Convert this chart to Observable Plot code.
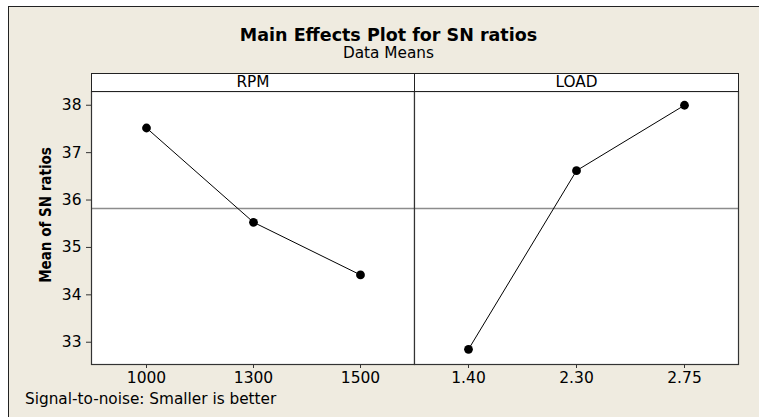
<!DOCTYPE html>
<html>
<head>
<meta charset="utf-8">
<script src="https://cdn.jsdelivr.net/npm/d3@7"></script>
<script src="https://cdn.jsdelivr.net/npm/@observablehq/plot@0.6"></script>
<style>
  html, body { margin: 0; padding: 0; background: #fff; }
  body { width: 759px; height: 417px; overflow: hidden; position: relative; font-family: "DejaVu Sans", Verdana, sans-serif; color: #000; }
  #frame { position: absolute; left: 8px; top: 6px; width: 800px; height: 500px; background: #efebe0; border-left: 1px solid #222; border-top: 1px solid #222; }
  .abs { position: absolute; }
  #title { left: 0; width: 777px; top: 27px; text-align: center; font-weight: bold; font-size: 17.5px; line-height: 17px; }
  #subtitle { left: 0; width: 777px; top: 45.5px; text-align: center; font-size: 15.3px; line-height: 15px; }
  .strip { top: 73px; height: 17px; background: #fff; border: 1px solid #222; box-sizing: content-box; text-align: center; font-size: 15.3px; line-height: 17px; }
  #ylabel { left: 46px; top: 215px; transform: translate(-50%, -50%) rotate(-90deg); white-space: nowrap; font-family: "DejaVu Sans Condensed", "DejaVu Sans", sans-serif; font-stretch: condensed; font-weight: bold; font-size: 15px; }
  #caption { left: 25px; top: 391px; font-size: 15.3px; line-height: 17px; white-space: nowrap; }
  #p1, #p2 { position: absolute; top: 0; }
</style>
</head>
<body>
<div id="frame"></div>
<div id="title" class="abs">Main Effects Plot for SN ratios</div>
<div id="subtitle" class="abs">Data Means</div>
<div id="ylabel" class="abs">Mean of SN ratios</div>
<div id="caption" class="abs">Signal-to-noise: Smaller is better</div>
<div id="p1"></div>
<div id="p2"></div>
<script>
// ---- data ----
const factors = ["RPM", "LOAD"];
const rpmLevels = ["1000", "1300", "1500"];
const rpmMeans = [37.52, 35.53, 34.42];
const loadLevels = ["1.40", "2.30", "2.75"];
const loadMeans = [32.85, 36.62, 38.00];
const yTicks = [33, 34, 35, 36, 37, 38];
const yDomain = [32.53, 38.29];
const grandMean = 35.82;

const rpmData = rpmLevels.map((level, i) => ({level, mean: rpmMeans[i]}));
const loadData = loadLevels.map((level, i) => ({level, mean: loadMeans[i]}));

const H = 417, MT = 91, MB = 53;
const FS = 15.5;
const font = {background: "transparent", overflow: "visible", fontFamily: "DejaVu Sans, Verdana, sans-serif", fontSize: FS + "px", color: "#000"};

function panel(data, levels, opts) {
  return Plot.plot({
    width: opts.width, height: H,
    marginLeft: opts.ml, marginRight: opts.mr, marginTop: MT, marginBottom: MB,
    style: font,
    x: {type: "point", domain: levels, padding: 0.5, axis: null},
    y: {domain: yDomain, axis: null},
    marks: [
      Plot.frame({fill: "white", stroke: "none"}),
      Plot.ruleY([grandMean], {stroke: "#8c8c8c", strokeWidth: 1.5}),
      Plot.line(data, {x: "level", y: "mean", stroke: "#000", strokeWidth: 1}),
      Plot.dot(data, {x: "level", y: "mean", r: 4.4, fill: "#000", stroke: "none"}),
      Plot.axisX(levels, {tickSize: 4, tickPadding: 3, label: null, stroke: "#333", fontSize: FS}),
      opts.yaxis ? Plot.axisY(yTicks, {tickSize: 5, tickPadding: 5, label: null, tickFormat: d => String(d), stroke: "#333", fontSize: FS}) : null,
      Plot.frame({stroke: "#333", strokeWidth: 1.2})
    ]
  });
}

const p1 = panel(rpmData, rpmLevels, {width: 414, ml: 91, mr: 0, yaxis: true});
const p2 = panel(loadData, loadLevels, {width: 345, ml: 0, mr: 21, yaxis: false});
document.getElementById("p1").style.left = "0px";
document.getElementById("p2").style.left = "414px";
document.getElementById("p1").append(p1);
document.getElementById("p2").append(p2);

// strip headers (facet labels)
const strips = [{name: factors[0], left: 91, width: 322}, {name: factors[1], left: 414, width: 323}];
for (const s of strips) {
  const d = document.createElement("div");
  d.className = "abs strip";
  d.style.left = s.left + "px";
  d.style.width = s.width + "px";
  d.textContent = s.name;
  document.body.append(d);
}
</script>
</body>
</html>
